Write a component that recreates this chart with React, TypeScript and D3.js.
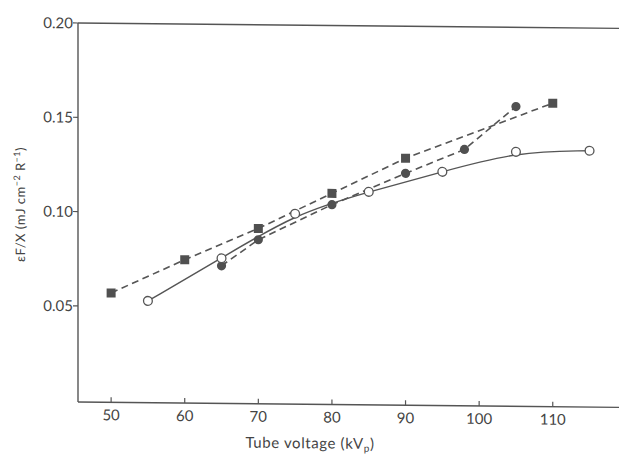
import React from "react";
import * as d3 from "d3";

const squareX = [50, 60, 70, 80, 90, 110];
const squareY = [0.057, 0.075, 0.092, 0.111, 0.13, 0.16];
const filledX = [65, 70, 80, 90, 98, 105];
const filledY = [0.072, 0.086, 0.105, 0.122, 0.135, 0.158];
const openX = [55, 65, 75, 85, 95, 105, 115];
const openY = [0.053, 0.076, 0.1, 0.112, 0.123, 0.134, 0.135];
const xTicks = [50, 60, 70, 80, 90, 100, 110];
const yTicks = [0.05, 0.1, 0.15, 0.2];

const W = 619;
const H = 460;
const L = 78;
const R = 619;
const T = 23;
const B = 402;
const INK = "#555";
const FONT = "Lato, 'Open Sans', sans-serif";

export default function App() {
  const x = d3.scaleLinear().domain([45.5, 119]).range([L, R]);
  const y = d3.scaleLinear().domain([-0.001, 0.2]).range([B, T]);

  const sq = squareX.map((v, i) => [v, squareY[i]] as [number, number]);
  const fc = filledX.map((v, i) => [v, filledY[i]] as [number, number]);
  const oc = openX.map((v, i) => [v, openY[i]] as [number, number]);

  const lin = d3.line<[number, number]>().x((d) => x(d[0])).y((d) => y(d[1]));
  const smooth = d3
    .line<[number, number]>()
    .x((d) => x(d[0]))
    .y((d) => y(d[1]))
    .curve(d3.curveBasis);

  return (
    <svg
      width={W}
      height={H}
      style={{ position: "absolute", left: 0, top: 0, background: "#fff" }}
      fontFamily={FONT}
    >
      <rect width={W} height={H} fill="#fff" />
      <g transform={`matrix(1,0.01,0,1,0,${-0.01 * L})`}>
        {/* frame */}
        <line x1={L} x2={R} y1={T} y2={T} stroke={INK} strokeWidth={1.4} />
        <line x1={L} x2={L} y1={T} y2={B} stroke={INK} strokeWidth={1.4} />
        <line x1={L} x2={R} y1={B} y2={B} stroke={INK} strokeWidth={1.4} />

        {/* y ticks */}
        {yTicks.map((t) => (
          <g key={"y" + t}>
            <line x1={L - 5} x2={L} y1={y(t)} y2={y(t)} stroke={INK} strokeWidth={1.2} />
            <text
              x={L - 5}
              y={y(t)}
              dy="0.36em"
              textAnchor="end"
              fontSize={15}
              fill="#444"
            >
              {t.toFixed(2)}
            </text>
          </g>
        ))}

        {/* x ticks */}
        {xTicks.map((t) => (
          <g key={"x" + t}>
            <line x1={x(t)} x2={x(t)} y1={B} y2={B - 5} stroke={INK} strokeWidth={1.2} />
            <text x={x(t)} y={B + 18} textAnchor="middle" fontSize={15} fill="#444">
              {t}
            </text>
          </g>
        ))}

        {/* axis titles */}
        <text x={310} y={446} textAnchor="middle" fontSize={15} fill="#444" letterSpacing={0.6}>
          Tube voltage (kV
          <tspan fontSize={10} dy={3}>p</tspan>
          <tspan dy={-3}>)</tspan>
        </text>
        <text
          transform={`translate(25,205) rotate(-90)`}
          textAnchor="middle"
          fontSize={13}
          fill="#444"
          letterSpacing={0.5}
        >
          εF/X (mJ cm
          <tspan fontSize={9} dy={-5}>−2</tspan>
          <tspan dy={5}> R</tspan>
          <tspan fontSize={9} dy={-5}>−1</tspan>
          <tspan dy={5}>)</tspan>
        </text>

        {/* lines */}
        <path d={lin(sq) || ""} fill="none" stroke={INK} strokeWidth={1.6} strokeDasharray="7,4.5" />
        <path d={lin(fc) || ""} fill="none" stroke={INK} strokeWidth={1.6} strokeDasharray="7,4.5" />
        <path d={smooth(oc) || ""} fill="none" stroke={INK} strokeWidth={1.4} />

        {/* markers */}
        {sq.map((d, i) => (
          <rect
            key={"s" + i}
            x={x(d[0]) - 4.5}
            y={y(d[1]) - 4.5}
            width={9}
            height={9}
            fill="#505050"
          />
        ))}
        {fc.map((d, i) => (
          <circle key={"f" + i} cx={x(d[0])} cy={y(d[1])} r={4.6} fill="#505050" />
        ))}
        {oc.map((d, i) => (
          <circle
            key={"o" + i}
            cx={x(d[0])}
            cy={y(d[1])}
            r={4.4}
            fill="#fff"
            stroke={INK}
            strokeWidth={1.3}
          />
        ))}
      </g>
    </svg>
  );
}
